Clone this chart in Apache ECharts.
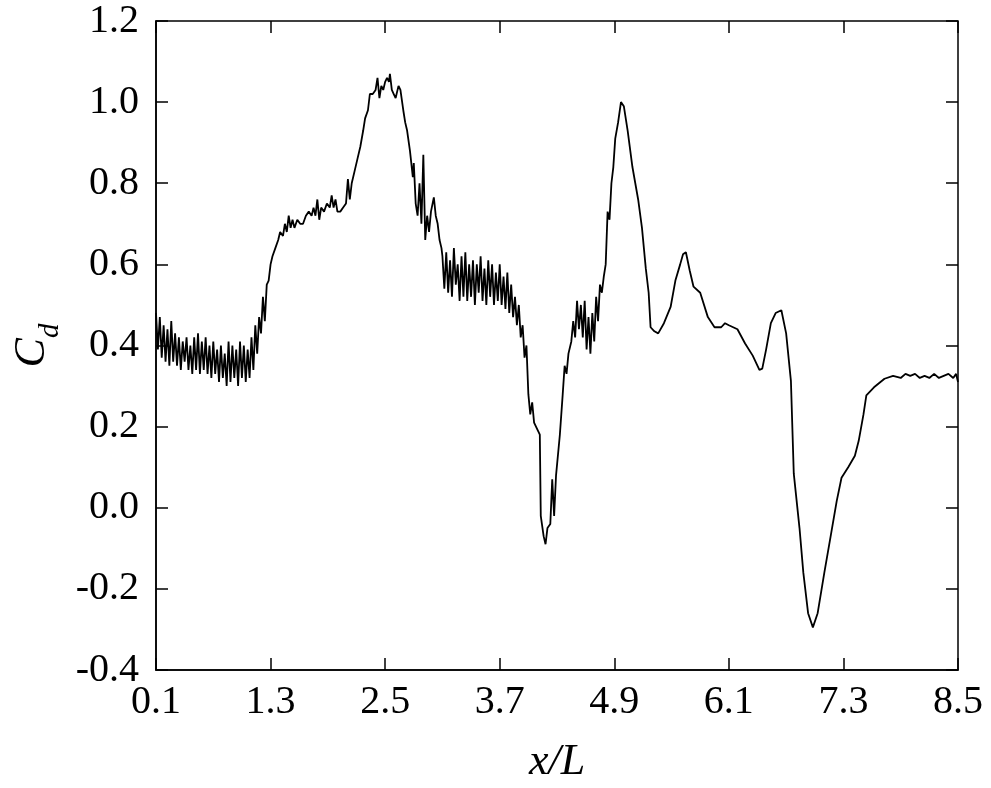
<!DOCTYPE html>
<html>
<head>
<meta charset="utf-8">
<script src="https://cdn.jsdelivr.net/npm/echarts@6/dist/echarts.min.js"></script>
<style>
  * { margin: 0; padding: 0; }
  html, body { background: #fff; }
  #main { width: 991px; height: 788px; }
</style>
</head>
<body>
<div id="main"></div>
<script>
// x/L positions and drag coefficient
var xL = [
  0.10,0.12,0.14,0.16,0.18,0.20,0.22,0.24,0.26,0.28,0.30,0.32,0.34,0.36,0.38,0.40,0.42,0.44,0.46,0.48,
  0.50,0.52,0.54,0.56,0.58,0.60,0.62,0.64,0.66,0.68,0.70,0.72,0.74,0.76,0.78,0.80,0.82,0.84,0.86,0.88,
  0.90,0.92,0.94,0.96,0.98,1.00,1.02,1.04,1.06,1.08,1.10,1.12,1.14,1.16,1.18,1.20,1.22,1.24,1.26,1.28,
  1.30,1.32,1.35,1.38,1.40,1.43,1.45,1.47,1.49,1.51,1.53,1.55,1.58,1.61,1.64,1.67,1.70,1.73,1.75,1.77,
  1.79,1.81,1.83,1.86,1.89,1.92,1.94,1.96,1.98,2.00,2.03,2.06,2.09,2.11,2.13,2.15,2.18,2.21,2.24,2.27,
  2.29,2.32,2.34,2.37,2.40,2.42,2.44,2.46,2.48,2.50,2.52,2.54,2.55,2.57,2.59,2.61,2.64,2.66,2.69,2.71,
  2.73,2.76,2.79,2.80,2.82,2.84,2.86,2.88,2.90,2.92,2.94,2.96,2.98,3.01,3.03,3.05,3.07,3.09,
  3.10,3.12,3.14,3.16,3.18,3.20,3.22,3.24,3.26,3.28,3.30,3.32,3.34,3.36,3.38,3.40,3.42,3.44,3.46,3.48,
  3.50,3.52,3.54,3.56,3.58,3.60,3.62,3.64,3.66,3.68,3.70,3.72,3.74,3.76,3.78,3.80,3.82,3.84,3.86,3.88,
  3.90,3.92,3.94,3.96,3.98,4.00,4.02,4.04,4.06,4.10,4.12,4.13,4.16,4.18,4.20,4.23,4.25,4.27,4.29,4.33,
  4.36,4.38,4.40,4.42,4.45,4.47,4.49,4.51,4.53,4.55,4.57,4.59,4.61,4.63,4.65,4.67,4.69,4.71,4.73,4.75,
  4.77,4.79,4.81,4.83,4.85,4.87,4.89,4.91,4.94,4.97,5.00,5.04,5.09,5.15,5.19,5.23,5.26,5.28,5.32,5.36,
  5.42,5.49,5.54,5.59,5.62,5.65,5.69,5.73,5.80,5.88,5.95,6.02,6.06,6.10,6.19,6.27,6.35,6.42,6.45,6.49,
  6.54,6.59,6.65,6.70,6.75,6.78,6.84,6.88,6.93,6.98,7.03,7.10,7.17,7.23,7.28,7.35,7.42,7.46,7.51,7.54,
  7.62,7.73,7.82,7.90,7.95,8.00,8.05,8.10,8.15,8.20,8.25,8.30,8.35,8.40,8.45,8.48,8.50
];
var cd = [
  0.48,0.39,0.47,0.37,0.45,0.36,0.44,0.35,0.46,0.36,0.43,0.35,0.42,0.34,0.41,0.36,0.42,0.34,0.40,0.33,
  0.42,0.34,0.43,0.33,0.41,0.34,0.42,0.33,0.40,0.32,0.41,0.33,0.39,0.31,0.40,0.32,0.38,0.30,0.41,0.31,
  0.40,0.32,0.39,0.30,0.41,0.32,0.40,0.31,0.39,0.32,0.42,0.34,0.45,0.38,0.47,0.43,0.52,0.46,0.55,0.56,
  0.60,0.62,0.64,0.66,0.68,0.67,0.70,0.68,0.72,0.69,0.71,0.69,0.71,0.70,0.70,0.72,0.73,0.72,0.74,0.72,
  0.76,0.71,0.74,0.73,0.75,0.74,0.77,0.74,0.76,0.73,0.73,0.74,0.75,0.81,0.76,0.80,0.83,0.86,0.89,0.93,
  0.96,0.98,1.02,1.02,1.03,1.06,1.01,1.04,1.03,1.05,1.06,1.05,1.07,1.03,1.02,1.01,1.04,1.03,0.98,0.95,
  0.93,0.88,0.815,0.85,0.75,0.72,0.80,0.70,0.87,0.66,0.72,0.68,0.73,0.765,0.72,0.70,0.66,0.64,
  0.62,0.54,0.63,0.53,0.61,0.52,0.64,0.55,0.60,0.51,0.62,0.52,0.63,0.51,0.60,0.52,0.61,0.50,0.60,0.53,
  0.62,0.51,0.59,0.50,0.61,0.52,0.60,0.50,0.58,0.51,0.60,0.50,0.57,0.49,0.58,0.48,0.55,0.47,0.52,0.45,
  0.50,0.42,0.45,0.37,0.40,0.28,0.23,0.26,0.21,0.19,0.18,-0.02,-0.07,-0.09,-0.05,-0.04,0.07,-0.02,0.08,0.18,
  0.28,0.35,0.33,0.38,0.41,0.46,0.42,0.51,0.44,0.50,0.42,0.51,0.39,0.47,0.38,0.48,0.41,0.52,0.46,0.55,
  0.53,0.57,0.60,0.73,0.71,0.80,0.84,0.91,0.95,1.00,0.99,0.93,0.84,0.76,0.69,0.59,0.53,0.445,0.435,0.43,
  0.455,0.495,0.56,0.60,0.625,0.63,0.585,0.545,0.53,0.47,0.445,0.445,0.455,0.45,0.44,0.405,0.375,0.34,0.343,0.39,
  0.455,0.48,0.487,0.43,0.313,0.084,-0.05,-0.16,-0.26,-0.295,-0.26,-0.16,-0.065,0.017,0.074,0.10,0.128,0.165,0.23,0.277,
  0.297,0.318,0.325,0.32,0.33,0.325,0.33,0.32,0.325,0.32,0.33,0.32,0.325,0.33,0.32,0.33,0.31
];
var xTicks = [0.1, 1.3, 2.5, 3.7, 4.9, 6.1, 7.3, 8.5];

var points = [];
for (var i = 0; i < xL.length; i++) {
  points.push([xL[i], cd[i]]);
}

var font = '"Liberation Serif", "Times New Roman", serif';
var fmt = function (v) { return v.toFixed(1); };

var chart = echarts.init(document.getElementById('main'));
chart.setOption({
  backgroundColor: '#fff',
  animation: false,
  grid: {
    left: 156, right: 33, top: 21, bottom: 118,
    outerBoundsMode: 'none',
    show: true, borderColor: '#000', borderWidth: 1.5
  },
  xAxis: [
    {
      type: 'value', min: 0.1, max: 8.5,
      axisLine: { show: true, onZero: false, lineStyle: { color: '#000', width: 1.5 } },
      axisTick: { show: true, inside: true, length: 12, customValues: xTicks, lineStyle: { color: '#000', width: 1.5 } },
      axisLabel: { customValues: xTicks, formatter: fmt, color: '#000', fontFamily: font, fontSize: 40, margin: 12 },
      splitLine: { show: false },
      name: 'x/L', nameLocation: 'middle', nameGap: 70,
      nameTextStyle: { fontFamily: font, fontSize: 44, fontStyle: 'italic', color: '#000' }
    },
    {
      type: 'value', min: 0.1, max: 8.5, position: 'top',
      axisLine: { show: false, onZero: false },
      axisTick: { show: true, inside: true, length: 12, customValues: xTicks, lineStyle: { color: '#000', width: 1.5 } },
      axisLabel: { show: false },
      splitLine: { show: false }
    }
  ],
  yAxis: [
    {
      type: 'value', min: -0.4, max: 1.2, interval: 0.2,
      axisLine: { show: true, onZero: false, lineStyle: { color: '#000', width: 1.5 } },
      axisTick: { show: true, inside: true, length: 12, lineStyle: { color: '#000', width: 1.5 } },
      axisLabel: { formatter: fmt, color: '#000', fontFamily: font, fontSize: 40, margin: 17 },
      splitLine: { show: false },
      name: '{i|C}{s|d}', nameLocation: 'middle', nameGap: 90, nameRotate: 90,
      nameTextStyle: {
        color: '#000',
        rich: {
          i: { fontFamily: font, fontSize: 44, fontStyle: 'italic', color: '#000', verticalAlign: 'bottom', padding: [0, 0, 10, 0] },
          s: { fontFamily: font, fontSize: 29, fontStyle: 'italic', color: '#000', verticalAlign: 'bottom' }
        }
      }
    },
    {
      type: 'value', min: -0.4, max: 1.2, interval: 0.2, position: 'right',
      axisLine: { show: false, onZero: false },
      axisTick: { show: true, inside: true, length: 12, lineStyle: { color: '#000', width: 1.5 } },
      axisLabel: { show: false },
      splitLine: { show: false }
    }
  ],
  series: [
    {
      type: 'line',
      xAxisIndex: 0, yAxisIndex: 0,
      data: points,
      showSymbol: false,
      symbol: 'none',
      lineStyle: { color: '#000', width: 1.8 }
    }
  ]
});
</script>
</body>
</html>
